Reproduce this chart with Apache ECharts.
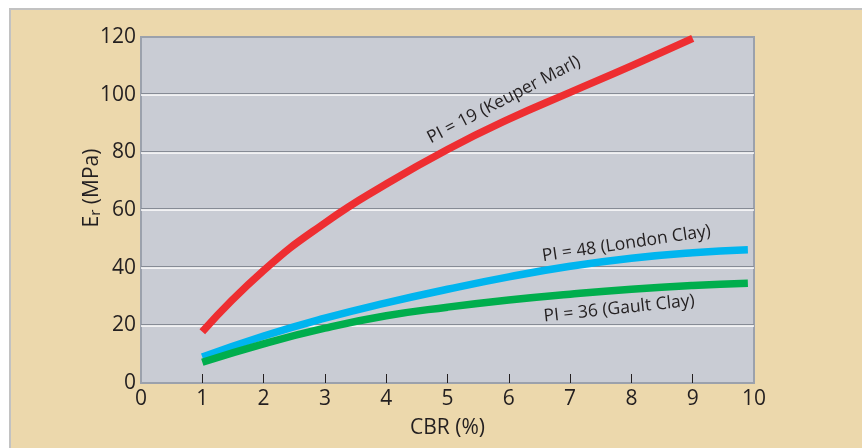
<!DOCTYPE html>
<html>
<head>
<meta charset="utf-8">
<script src="https://cdn.jsdelivr.net/npm/echarts@6/dist/echarts.min.js"></script>
<style>
html,body{margin:0;padding:0;background:#fff;}
#c{width:862px;height:448px;}
</style>
</head>
<body>
<div id="c"></div>
<script>
// Data
var cbrRed   = [1, 2, 3, 4, 5, 6, 7, 8, 9];
var keuper   = [17.8, 39, 55.5, 69, 81, 91.5, 100.8, 110, 119.5];
var cbrLong  = [1, 2, 3, 4, 5, 6, 7, 8, 9, 9.9];
var london   = [9, 16.3, 22.5, 27.8, 32.5, 36.8, 40.5, 43.3, 45.2, 46.2];
var gault    = [7.2, 13.6, 19, 23.3, 26.3, 28.8, 30.8, 32.5, 33.8, 34.6];
var xTicks   = [0, 1, 2, 3, 4, 5, 6, 7, 8, 9, 10];
var yTicks   = [0, 20, 40, 60, 80, 100, 120];
var labelTexts = ['PI = 19 (Keuper Marl)', 'PI = 48 (London Clay)', 'PI = 36 (Gault Clay)'];

function pairs(xs, ys){ return ys.map(function(v,i){ return [xs[i], v]; }); }

var FONT = '"Open Sans", "Noto Sans", sans-serif';
var TXT = '#231f20';
var chart = echarts.init(document.getElementById('c'), null, {renderer:'canvas'});

var option = {
  backgroundColor: '#ffffff',
  animation: false,
  textStyle: {fontFamily: FONT},
  grid: {
    left: 141, top: 37, right: 108, bottom: 65,
    show: true, backgroundColor: '#c9ccd4', borderColor: '#9ba1ac', borderWidth: 2
  },
  xAxis: {
    type: 'value', min: 0, max: 10, interval: 1,
    name: 'CBR (%)', nameLocation: 'middle', nameGap: 35,
    nameTextStyle: {fontSize: 21, color: TXT, fontFamily: FONT},
    axisLine: {show: false},
    axisTick: {show: true, inside: true, length: 9, customValues: [1,2,3,4,5,6,7,8,9],
               lineStyle: {color: TXT, width: 1}},
    axisLabel: {fontSize: 21, color: TXT, margin: 6, fontFamily: FONT},
    splitLine: {show: false}
  },
  yAxis: {
    type: 'value', min: 0, max: 120, interval: 20,
    axisLine: {show: false},
    axisTick: {show: false},
    axisLabel: {fontSize: 21, color: TXT, margin: 5, fontFamily: FONT},
    splitLine: {show: true, showMinLine: false, showMaxLine: false,
      lineStyle: {color: '#ffffff', width: 1.5, shadowColor: '#868b95', shadowBlur: 0, shadowOffsetY: -1.3}}
  },
  series: [
    {type: 'line', data: pairs(cbrRed, keuper), smooth: 0.5, showSymbol: false,
     lineStyle: {color: '#ee2e31', width: 7.5, cap: 'butt'}},
    {type: 'line', data: pairs(cbrLong, london), smooth: 0.5, showSymbol: false,
     lineStyle: {color: '#00b5ef', width: 7.5, cap: 'butt'}},
    {type: 'line', data: pairs(cbrLong, gault), smooth: 0.5, showSymbol: false,
     lineStyle: {color: '#00ae4d', width: 7.5, cap: 'butt'}}
  ]
};
chart.setOption(option);

// labels anchored in data coordinates
var anchors = [[5.92, 98.2, 27.5], [7.92, 48.3, 8.5], [7.8, 25.8, 6]];
var graphics = [
  {type: 'rect', z: -10, silent: true,
   shape: {x: 10, y: 9, width: 900, height: 500},
   style: {fill: '#ecd8ac', stroke: '#c2c2c2', lineWidth: 2}},
  {type: 'text', x: 92, y: 188, rotation: Math.PI/2,
   style: {text: 'E{sub|r} (MPa)', fontSize: 21, fill: TXT, fontFamily: FONT,
           align: 'center', verticalAlign: 'middle',
           rich: {sub: {fontSize: 15, fill: TXT, fontFamily: FONT, padding: [8,0,0,0]}}}}
];
anchors.forEach(function(a, i){
  var p = chart.convertToPixel({gridIndex: 0}, [a[0], a[1]]);
  graphics.push({type: 'text', x: p[0], y: p[1], rotation: a[2]*Math.PI/180, z: 100,
    style: {text: labelTexts[i], fontSize: 17.5, fill: TXT, fontFamily: FONT,
            align: 'center', verticalAlign: 'middle'}});
});
chart.setOption({graphic: graphics});
</script>
</body>
</html>
